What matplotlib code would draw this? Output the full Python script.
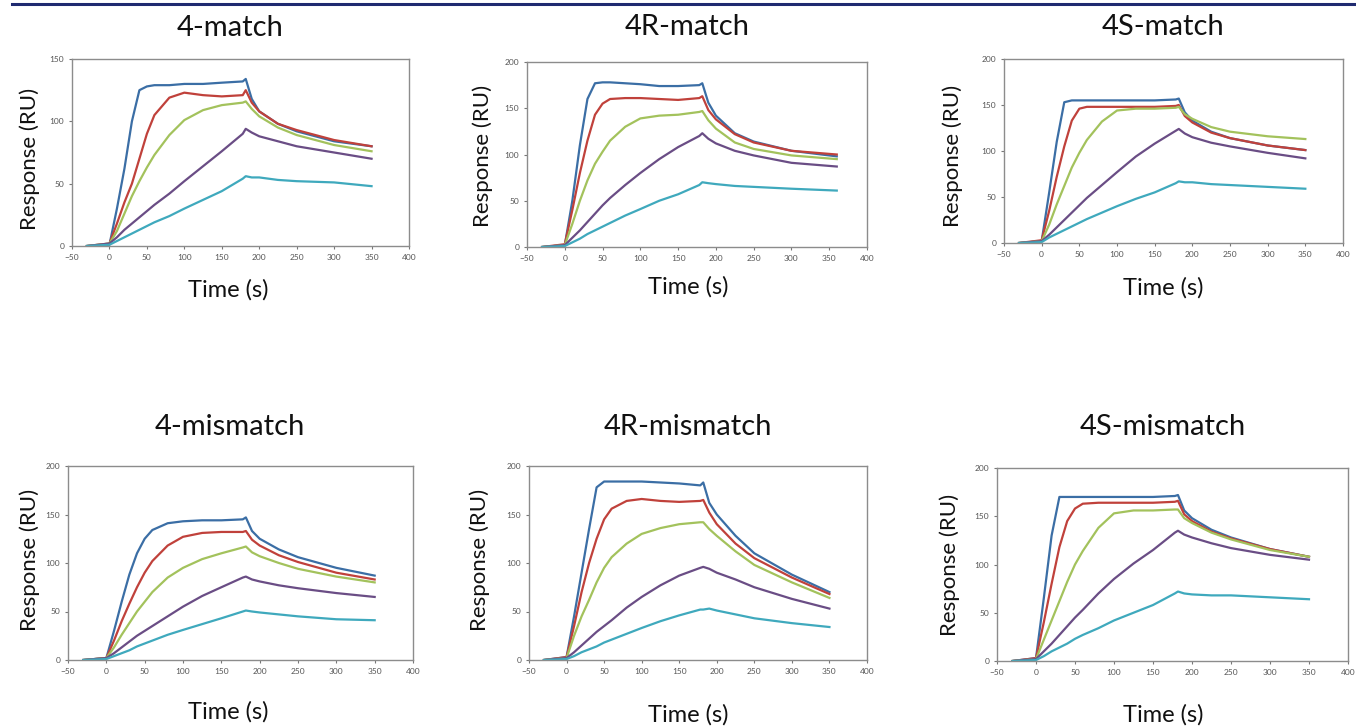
import matplotlib
matplotlib.use("Agg")
import matplotlib.pyplot as plt
from matplotlib.lines import Line2D

plt.rcParams['font.family'] = ['Lato', 'DejaVu Sans']

# sample times (s)
time_s = [-30, 0, 10, 20, 30, 40, 50, 60, 80, 100, 125, 150, 178, 182, 190, 200, 225, 250, 300, 350]
# 4R-match runs a little longer
time_s_4r = time_s[:-1] + [360]

titles = ['4-match', '4R-match', '4S-match', '4-mismatch', '4R-mismatch', '4S-mismatch']
y_max = [150, 200, 200, 200, 200, 200]

# response (RU), curves in order: blue, red, green, purple, cyan
resp_4_match = [
    [0, 1, 30, 62, 100, 125, 128, 129, 129, 130, 130, 131, 132, 134, 118, 108, 98, 92, 84, 80],
    [0, 2, 18, 35, 50, 70, 90, 105, 119, 123, 121, 120, 121, 125, 115, 108, 98, 93, 85, 80],
    [0, 2, 12, 26, 40, 52, 63, 73, 89, 101, 109, 113, 115, 116, 110, 104, 95, 89, 81, 76],
    [0, 2, 7, 13, 18, 23, 28, 33, 42, 52, 64, 76, 90, 94, 91, 88, 84, 80, 75, 70],
    [0, 1, 4, 7, 10, 13, 16, 19, 24, 30, 37, 44, 54, 56, 55, 55, 53, 52, 51, 48],
]
resp_4r_match = [
    [0, 2, 50, 110, 160, 177, 178, 178, 177, 176, 174, 174, 175, 177, 156, 142, 123, 114, 104, 98],
    [0, 3, 40, 80, 115, 143, 155, 160, 161, 161, 160, 159, 161, 163, 148, 138, 122, 113, 104, 100],
    [0, 2, 25, 50, 72, 90, 103, 115, 130, 139, 142, 143, 146, 147, 137, 128, 113, 106, 99, 95],
    [0, 2, 10, 18, 27, 36, 45, 53, 67, 80, 95, 108, 120, 123, 117, 112, 104, 99, 91, 87],
    [0, 1, 5, 9, 14, 18, 22, 26, 34, 41, 50, 57, 67, 70, 69, 68, 66, 65, 63, 61],
]
resp_4s_match = [
    [0, 2, 55, 110, 153, 155, 155, 155, 155, 155, 155, 155, 156, 157, 142, 133, 121, 114, 106, 101],
    [0, 3, 35, 72, 105, 133, 146, 148, 148, 148, 148, 148, 149, 150, 138, 131, 120, 114, 106, 101],
    [0, 2, 20, 42, 62, 82, 98, 112, 132, 144, 146, 146, 147, 148, 140, 135, 126, 121, 116, 113],
    [0, 2, 9, 17, 25, 33, 41, 49, 63, 77, 94, 108, 122, 124, 119, 115, 109, 105, 98, 92],
    [0, 1, 6, 10, 14, 18, 22, 26, 33, 40, 48, 55, 65, 67, 66, 66, 64, 63, 61, 59],
]
resp_4_mismatch = [
    [0, 2, 30, 60, 88, 110, 125, 134, 141, 143, 144, 144, 145, 147, 133, 125, 114, 106, 95, 87],
    [0, 2, 20, 40, 58, 75, 90, 102, 118, 127, 131, 132, 132, 133, 124, 118, 108, 101, 90, 83],
    [0, 2, 13, 26, 38, 50, 60, 70, 85, 95, 104, 110, 116, 117, 111, 107, 100, 94, 86, 80],
    [0, 2, 7, 13, 19, 25, 30, 35, 45, 55, 66, 75, 85, 86, 83, 81, 77, 74, 69, 65],
    [0, 1, 4, 7, 10, 14, 17, 20, 26, 31, 37, 43, 50, 51, 50, 49, 47, 45, 42, 41],
]
resp_4r_mismatch = [
    [0, 3, 45, 90, 135, 178, 184, 184, 184, 184, 183, 182, 180, 183, 162, 150, 128, 110, 88, 70],
    [0, 3, 35, 70, 100, 125, 145, 156, 164, 166, 164, 163, 164, 165, 152, 140, 120, 105, 85, 68],
    [0, 2, 25, 45, 62, 80, 95, 106, 120, 130, 136, 140, 142, 142, 135, 128, 112, 98, 80, 64],
    [0, 2, 8, 15, 22, 29, 35, 41, 54, 65, 77, 87, 95, 96, 94, 90, 83, 75, 63, 53],
    [0, 1, 4, 8, 11, 14, 18, 21, 27, 33, 40, 46, 52, 52, 53, 51, 47, 43, 38, 34],
]
resp_4s_mismatch = [
    [0, 3, 65, 130, 170, 170, 170, 170, 170, 170, 170, 170, 171, 172, 156, 148, 136, 128, 116, 108],
    [0, 3, 40, 80, 118, 145, 158, 163, 164, 164, 164, 164, 165, 166, 152, 145, 134, 127, 116, 108],
    [0, 2, 22, 42, 62, 82, 100, 114, 138, 153, 156, 156, 157, 157, 148, 143, 133, 126, 115, 108],
    [0, 2, 10, 18, 27, 36, 45, 53, 70, 85, 101, 115, 133, 135, 131, 128, 122, 117, 110, 105],
    [0, 1, 5, 10, 14, 18, 23, 27, 34, 42, 50, 58, 70, 72, 70, 69, 68, 68, 66, 64],
]

panels = [resp_4_match, resp_4r_match, resp_4s_match,
          resp_4_mismatch, resp_4r_mismatch, resp_4s_mismatch]
panel_times = [time_s, time_s_4r, time_s, time_s, time_s, time_s]

colors = ['#3b6ea5', '#c0413b', '#a3c25c', '#6a4d85', '#3fa9bd']

W, H = 1356, 728
fig = plt.figure(figsize=(W / 100, H / 100), dpi=100)
fig.patch.set_facecolor('white')

# dark rule along the top of the page
fig.add_artist(Line2D([12 / W, 1], [1 - 4 / H, 1 - 4 / H], color='#1f2a70', lw=2.2))

# axes boxes in pixels: left, right, top, bottom
boxes = [(72, 409, 59, 246), (527, 867, 62, 247), (1004, 1343, 59, 243),
         (68, 413, 466, 660), (529, 867, 466, 660), (997, 1348, 468, 661)]
title_pos = [(230, 28), (687, 27), (1163, 27), (230, 427), (688, 427), (1163, 427)]
xlabel_pos = [(228, 290), (688, 287), (1163, 288), (228, 712), (688, 715), (1163, 715)]
ylabel_pos = [(30, 159), (483, 156), (953, 156), (30, 560), (480, 560), (950, 565)]

for i in range(6):
    l, r, t, b = boxes[i]
    ax = fig.add_axes([l / W, 1 - b / H, (r - l) / W, (b - t) / H])
    for k in range(5):
        ax.plot(panel_times[i], panels[i][k], color=colors[k], lw=1.6)
    ax.set_xlim(-50, 400)
    ax.set_ylim(0, y_max[i])
    ax.set_xticks(range(-50, 401, 50))
    ax.set_yticks(range(0, y_max[i] + 1, 50))
    ax.tick_params(labelsize=6, colors='#777777', labelcolor='#555555',
                   length=2.5, width=0.8, direction='out', pad=3)
    for s in ax.spines.values():
        s.set_color('#8c8c8c')
        s.set_linewidth(1.0)

    fig.text(title_pos[i][0] / W, 1 - title_pos[i][1] / H, titles[i],
             ha='center', va='center', fontsize=21, color='#111111')
    fig.text(xlabel_pos[i][0] / W, 1 - xlabel_pos[i][1] / H, 'Time (s)',
             ha='center', va='center', fontsize=17, color='#111111')
    fig.text(ylabel_pos[i][0] / W, 1 - ylabel_pos[i][1] / H, 'Response (RU)',
             ha='center', va='center', rotation=90, fontsize=16, color='#111111')

fig.savefig('out.png', dpi=100)
